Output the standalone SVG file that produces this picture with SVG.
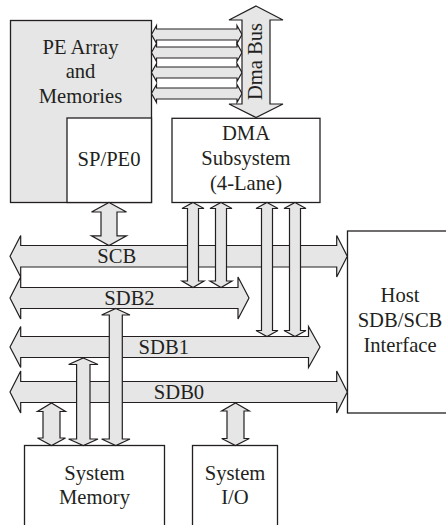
<svg xmlns="http://www.w3.org/2000/svg" width="446" height="525" viewBox="0 0 446 525">
<style>
.box{fill:#ffffff;stroke:#231f20;stroke-width:1.3}
.gray{fill:#e6e6e6;stroke:#231f20;stroke-width:1.3}
.arr{fill:#e6e6e6;stroke:#231f20;stroke-width:1.2;stroke-linejoin:miter}
text{font-family:"Liberation Serif","Times New Roman",serif;font-size:20.6px;fill:#231f20;text-anchor:middle}
</style>
<rect width="446" height="525" fill="#ffffff"/>
<g id="pe-array">
<rect class="gray" x="10.5" y="20.5" width="141" height="182"/>
<text x="80.5" y="53.5">PE Array</text>
<text x="80.5" y="78">and</text>
<text x="80.5" y="102.5">Memories</text>
</g>
<g id="sp-pe0">
<rect class="box" x="67" y="118" width="84.5" height="84.5"/>
<text x="109" y="166">SP/PE0</text>
</g>
<g id="dma-subsystem">
<rect class="box" x="172" y="118.3" width="148" height="84.2"/>
<text x="246" y="140">DMA</text>
<text x="246" y="165">Subsystem</text>
<text x="246" y="190">(4-Lane)</text>
</g>
<g id="host">
<rect class="box" x="347.5" y="231" width="110" height="182"/>
<text x="400" y="302">Host</text>
<text x="400" y="327">SDB/SCB</text>
<text x="400" y="352">Interface</text>
</g>
<g id="system-memory">
<rect class="box" x="24.5" y="445.5" width="140" height="100"/>
<text x="94.5" y="480">System</text>
<text x="94.5" y="504">Memory</text>
</g>
<g id="system-io">
<rect class="box" x="192.5" y="445.5" width="85" height="100"/>
<text x="235" y="480">System</text>
<text x="235" y="504">I/O</text>
</g>
<g id="connectors">
<!-- DMA lanes between PE array and Dma Bus -->
<path class="arr" d="M151.5,34.5 L156.5,25.5 L156.5,29 L237,29 L237,25.5 L242,34.5 L237,43.5 L237,40 L156.5,40 L156.5,43.5 Z"/>
<path class="arr" d="M151.5,52.5 L156.5,43.5 L156.5,47 L237,47 L237,43.5 L242,52.5 L237,61.5 L237,58 L156.5,58 L156.5,61.5 Z"/>
<path class="arr" d="M151.5,72.5 L156.5,63.5 L156.5,67 L237,67 L237,63.5 L242,72.5 L237,81.5 L237,78 L156.5,78 L156.5,81.5 Z"/>
<path class="arr" d="M151.5,93.5 L156.5,84.5 L156.5,88 L237,88 L237,84.5 L242,93.5 L237,102.5 L237,99 L156.5,99 L156.5,102.5 Z"/>
<!-- Dma Bus -->
<g id="dma-bus">
<path class="arr" d="M256,6 L283,20 L270,20 L270,104 L283,104 L256,117.5 L229,104 L242,104 L242,20 L229,20 Z"/>
<text transform="translate(262,61.5) rotate(-90)">Dma Bus</text>
</g>
<!-- Buses -->
<g id="scb">
<path class="arr" d="M10,256.3 L20.7,235.5 L20.7,245.5 L336.7,245.5 L336.7,235.5 L347.3,256.3 L336.7,277 L336.7,267 L20.7,267 L20.7,277 Z"/>
<text x="116.7" y="263">SCB</text>
</g>
<g id="sdb2">
<path class="arr" d="M10,298 L20.7,277 L20.7,287.5 L238,287.5 L238,277 L249,298 L238,319 L238,308.5 L20.7,308.5 L20.7,319 Z"/>
<text x="129.5" y="304.6">SDB2</text>
</g>
<g id="sdb1">
<path class="arr" d="M10,347 L20.7,326.5 L20.7,336.5 L308.5,336.5 L308.5,326.5 L320,347 L308.5,367.5 L308.5,357.5 L20.7,357.5 L20.7,367.5 Z"/>
<text x="163.8" y="353.6">SDB1</text>
</g>
<g id="sdb0">
<path class="arr" d="M10,392 L20.7,371 L20.7,381.5 L336.7,381.5 L336.7,371 L347.3,392 L336.7,413 L336.7,402.5 L20.7,402.5 L20.7,413 Z"/>
<text x="179" y="398.6">SDB0</text>
</g>
<!-- SP/PE0 to SCB -->
<path class="arr" d="M109,202.5 L126.5,212 L117,212 L117,235.8 L126.5,235.8 L109,245.5 L91.5,235.8 L101,235.8 L101,212 L91.5,212 Z"/>
<!-- DMA subsystem lanes to SDB2 / SDB1 -->
<path class="arr" d="M193,202.5 L204,208.5 L198.5,208.5 L198.5,281 L204,281 L193,287.5 L182,281 L187.5,281 L187.5,208.5 L182,208.5 Z"/>
<path class="arr" d="M221,202.5 L232,208.5 L226.5,208.5 L226.5,281 L232,281 L221,287.5 L210,281 L215.5,281 L215.5,208.5 L210,208.5 Z"/>
<path class="arr" d="M267,202.5 L278,208.5 L272.5,208.5 L272.5,330.5 L278,330.5 L267,336.5 L256,330.5 L261.5,330.5 L261.5,208.5 L256,208.5 Z"/>
<path class="arr" d="M295,202.5 L306,208.5 L300.5,208.5 L300.5,330.5 L306,330.5 L295,336.5 L284,330.5 L289.5,330.5 L289.5,208.5 L284,208.5 Z"/>
<!-- System Memory connections -->
<path class="arr" d="M51.5,403 L65.5,411.5 L60,411.5 L60,438 L65.5,438 L51.5,445.5 L37.5,438 L43,438 L43,411.5 L37.5,411.5 Z"/>
<path class="arr" d="M83.3,358 L98,364.5 L90,364.5 L90,439 L98,439 L83.3,445.5 L68.6,439 L76.6,439 L76.6,364.5 L68.6,364.5 Z"/>
<path class="arr" d="M115.8,308.5 L130,315 L122.3,315 L122.3,439 L130,439 L115.8,445.5 L101.6,439 L109.3,439 L109.3,315 L101.6,315 Z"/>
<!-- System I/O connection -->
<path class="arr" d="M235.5,403 L249.3,411 L244,411 L244,438.5 L249.3,438.5 L235.5,445.5 L221.7,438.5 L227,438.5 L227,411 L221.7,411 Z"/>
</g>
</svg>
